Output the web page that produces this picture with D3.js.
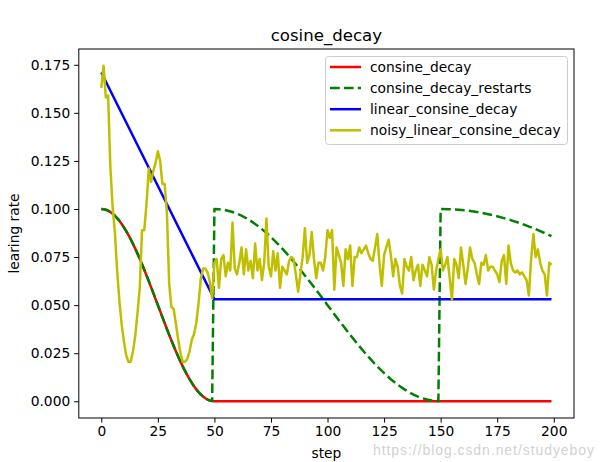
<!DOCTYPE html>
<html><head><meta charset="utf-8">
<script src="https://cdn.jsdelivr.net/npm/d3@7"></script>
<style>body{margin:0;background:#fff}svg{display:block}</style>
</head><body>
<svg id="c" width="603" height="462"></svg>
<script>
// ---- data ----
const seriesNames = ["consine_decay", "consine_decay_restarts", "linear_consine_decay", "noisy_linear_consine_decay"];
const xTicks = [0, 25, 50, 75, 100, 125, 150, 175, 200];
const yTicks = [0.000, 0.025, 0.050, 0.075, 0.100, 0.125, 0.150, 0.175];

const cosineDecaySteps = [0,1,2,3,4,5,6,7,8,9,10,11,12,13,14,15,16,17,18,19,20,21,22,23,24,25,26,27,28,29,30,31,32,33,34,35,36,37,38,39,40,41,42,43,44,45,46,47,48,49,50,199];
const cosineDecayValues = [0.1,0.0999,0.09961,0.09911,0.09843,0.09755,0.09649,0.09524,0.09382,0.09222,0.09045,0.08853,0.08645,0.08423,0.08187,0.07939,0.07679,0.07409,0.07129,0.06841,0.06545,0.06243,0.05937,0.05627,0.05314,0.05,0.04686,0.04373,0.04063,0.03757,0.03455,0.03159,0.02871,0.02591,0.02321,0.02061,0.01813,0.01577,0.01355,0.01147,0.00955,0.00778,0.00618,0.00476,0.00351,0.00245,0.00157,0.00089,0.00039,0.0001,0,0];

const restartSteps = [0,1,2,3,4,5,6,7,8,9,10,11,12,13,14,15,16,17,18,19,20,21,22,23,24,25,26,27,28,29,30,31,32,33,34,35,36,37,38,39,40,41,42,43,44,45,46,47,48,49,
  50,52,54,56,58,60,62,64,66,68,70,72,74,76,78,80,82,84,86,88,90,92,94,96,98,100,102,104,106,108,110,112,114,116,118,120,122,124,126,128,130,132,134,136,138,140,142,144,146,148,149,
  150,154,158,162,166,170,174,178,182,186,190,194,198,199];
const restartValues = [0.1,0.0999,0.09961,0.09911,0.09843,0.09755,0.09649,0.09524,0.09382,0.09222,0.09045,0.08853,0.08645,0.08423,0.08187,0.07939,0.07679,0.07409,0.07129,0.06841,0.06545,0.06243,0.05937,0.05627,0.05314,0.05,0.04686,0.04373,0.04063,0.03757,0.03455,0.03159,0.02871,0.02591,0.02321,0.02061,0.01813,0.01577,0.01355,0.01147,0.00955,0.00778,0.00618,0.00476,0.00351,0.00245,0.00157,0.00089,0.00039,0.0001,
  0.1,0.0999,0.09961,0.09911,0.09843,0.09755,0.09649,0.09524,0.09382,0.09222,0.09045,0.08853,0.08645,0.08423,0.08187,0.07939,0.07679,0.07409,0.07129,0.06841,0.06545,0.06243,0.05937,0.05627,0.05314,0.05,0.04686,0.04373,0.04063,0.03757,0.03455,0.03159,0.02871,0.02591,0.02321,0.02061,0.01813,0.01577,0.01355,0.01147,0.00955,0.00778,0.00618,0.00476,0.00351,0.00245,0.00157,0.00089,0.00039,0.0001,0.00002,
  0.1,0.0999,0.09961,0.09911,0.09843,0.09755,0.09649,0.09524,0.09382,0.09222,0.09045,0.08853,0.08645,0.0859];

const linearSteps = [0, 50, 199];
const linearValues = [0.171, 0.053, 0.053];

// noisy_linear_consine_decay, one value per step 0..199
const noisyValues = [
  0.163,0.1745,0.158,0.159,0.122,0.101,0.088,0.068,0.052,0.040,
  0.031,0.024,0.0205,0.0205,0.026,0.034,0.046,0.059,0.089,0.089,
  0.103,0.121,0.114,0.120,0.124,0.130,0.125,0.113,0.113,0.098,
  0.061,0.049,0.048,0.040,0.032,0.025,0.0205,0.0205,0.022,0.026,
  0.032,0.035,0.041,0.051,0.064,0.069,0.069,0.067,0.062,0.0535,
  0.072,0.074,0.059,0.074,0.076,0.065,0.072,0.068,0.093,0.069,
  0.066,0.072,0.080,0.066,0.079,0.068,0.073,0.064,0.082,0.068,
  0.074,0.063,0.072,0.095,0.070,0.065,0.078,0.068,0.077,0.059,
  0.070,0.068,0.066,0.073,0.075,0.074,0.066,0.057,0.066,0.075,
  0.090,0.072,0.076,0.088,0.074,0.064,0.072,0.072,0.068,0.075,
  0.089,0.085,0.089,0.058,0.080,0.076,0.072,0.060,0.079,0.074,
  0.081,0.060,0.075,0.075,0.080,0.077,0.079,0.081,0.077,0.074,
  0.073,0.080,0.087,0.071,0.060,0.076,0.080,0.084,0.076,0.065,
  0.074,0.070,0.060,0.056,0.074,0.070,0.068,0.075,0.063,0.068,
  0.071,0.060,0.071,0.068,0.065,0.075,0.071,0.058,0.068,0.074,
  0.079,0.068,0.071,0.075,0.064,0.0528,0.074,0.071,0.064,0.080,
  0.071,0.061,0.069,0.080,0.074,0.072,0.066,0.061,0.072,0.071,
  0.076,0.068,0.070,0.070,0.068,0.066,0.062,0.073,0.076,0.061,
  0.081,0.072,0.068,0.067,0.068,0.066,0.067,0.065,0.063,0.055,
  0.074,0.087,0.075,0.079,0.072,0.068,0.066,0.055,0.072,0.071
];

const colors = ["#ff0000", "#008000", "#0000ff", "#bfbf00"];

// ---- layout ----
const svg = d3.select("#c");
const L = 78.8, R = 574, T = 49, B = 418;
const font = "DejaVu Sans, sans-serif";
const fs = "13.8px";

const x = d3.scaleLinear().domain([-9.95, 208.95]).range([L, R]);
const y = d3.scaleLinear().domain([-0.0087, 0.1832]).range([B, T]);

svg.append("defs").append("clipPath").attr("id", "clip")
  .append("rect").attr("x", L).attr("y", T).attr("width", R - L).attr("height", B - T);

const line = d3.line().x(d => x(d[0])).y(d => y(d[1]));
const zip = (xs, ys) => xs.map((s, i) => [s, ys[i]]);

const seriesData = [
  zip(cosineDecaySteps, cosineDecayValues),
  zip(restartSteps, restartValues),
  zip(linearSteps, linearValues),
  noisyValues.map((v, i) => [i, v])
];
const dashes = [null, "9.7,4.2", null, null];

const plot = svg.append("g").attr("clip-path", "url(#clip)");
seriesData.forEach((d, i) => {
  plot.append("path").datum(d)
    .attr("d", line)
    .attr("fill", "none")
    .attr("stroke", colors[i])
    .attr("stroke-width", 2.5)
    .attr("stroke-linejoin", "round")
    .attr("stroke-dasharray", dashes[i]);
});

// axes
const xAxis = d3.axisBottom(x).tickValues(xTicks).tickSize(4.6).tickPadding(3.4).tickFormat(d3.format("d"));
const yAxis = d3.axisLeft(y).tickValues(yTicks).tickSize(4.6).tickPadding(4).tickFormat(d3.format(".3f"));

const gx = svg.append("g").attr("transform", `translate(0,${B})`).call(xAxis);
const gy = svg.append("g").attr("transform", `translate(${L},0)`).call(yAxis);
[gx, gy].forEach(g => {
  g.select(".domain").remove();
  g.selectAll("line").attr("stroke", "#000").attr("stroke-width", 1);
  g.selectAll("text").attr("fill", "#000").style("font-family", font).style("font-size", fs);
});

// spines
svg.append("rect").attr("x", L).attr("y", T).attr("width", R - L).attr("height", B - T)
  .attr("fill", "none").attr("stroke", "#000").attr("stroke-width", 1);

// title & labels
svg.append("text").attr("x", (L + R) / 2).attr("y", 41).attr("text-anchor", "middle")
  .style("font-family", font).style("font-size", "16.6px").text("cosine_decay");
svg.append("text").attr("x", (L + R) / 2).attr("y", 458).attr("text-anchor", "middle")
  .style("font-family", font).style("font-size", fs).text("step");
svg.append("text").attr("transform", `translate(19,${(T + B) / 2}) rotate(-90)`).attr("text-anchor", "middle")
  .style("font-family", font).style("font-size", fs).text("learing rate");

// legend
const lg = svg.append("g");
lg.append("rect").attr("x", 325.5).attr("y", 56.5).attr("width", 242).attr("height", 88).attr("rx", 3)
  .attr("fill", "#fff").attr("fill-opacity", 0.8).attr("stroke", "#cccccc").attr("stroke-width", 1);
seriesNames.forEach((n, i) => {
  const yy = 67 + i * 21.1;
  lg.append("line").attr("x1", 330).attr("x2", 361).attr("y1", yy).attr("y2", yy)
    .attr("stroke", colors[i]).attr("stroke-width", 2.5).attr("stroke-dasharray", dashes[i]);
  lg.append("text").attr("x", 370).attr("y", yy + 5)
    .style("font-family", font).style("font-size", fs).text(n);
});

// watermark
svg.append("text").attr("x", 373).attr("y", 455).attr("textLength", 221)
  .style("font-family", "Liberation Sans, sans-serif").style("font-size", "14px")
  .attr("fill", "#c8c8c8").attr("fill-opacity", 0.85).text("https://blog.csdn.net/studyeboy");
</script>
</body></html>
